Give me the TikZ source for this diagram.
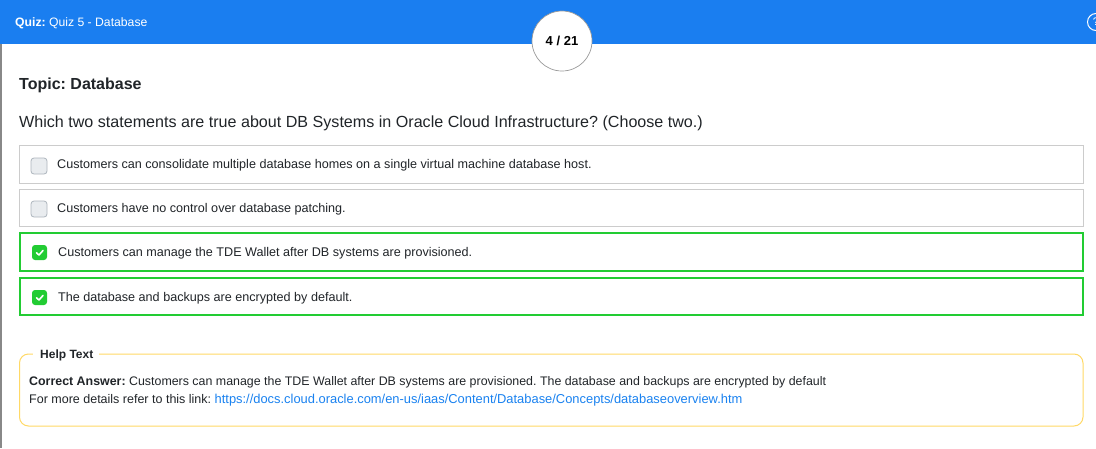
\documentclass[tikz,border=0pt]{standalone}
\usepackage{fontspec}
\setmainfont{Liberation Sans}
\frenchspacing
\definecolor{hdr}{HTML}{1A7EF0}
\definecolor{txt}{HTML}{212529}
\definecolor{okgreen}{HTML}{22CC33}
\definecolor{boxgray}{HTML}{CCCCCC}
\definecolor{chkfill}{HTML}{E9ECEF}
\definecolor{chkline}{HTML}{ADB5BD}
\definecolor{helpy}{HTML}{FFD966}
\definecolor{linkc}{HTML}{1A82F0}
\definecolor{edge}{HTML}{888888}
\begin{document}
\begin{tikzpicture}[x=1pt,y=-1pt,
  lbl/.style={anchor=base west,inner sep=0pt,text=txt},
  optfont/.style={font=\fontsize{12.6}{15}\selectfont},
  optbox/.style={draw=boxgray,line width=1pt},
  okbox/.style={draw=okgreen,line width=2pt},
  uncheck/.style={draw=chkline,fill=chkfill,line width=0.8pt,rounded corners=3pt},
  check/.style={fill=okgreen,rounded corners=3pt},
  tick/.style={draw=white,line width=1.6pt,line cap=round,line join=round}]
\useasboundingbox (0,0) rectangle (1096,448);
\fill[white] (0,0) rectangle (1096,448);
% header
\fill[hdr] (0,0) rectangle (1096,44);
\draw[edge,line width=1.5pt] (0.75,44) -- (0.75,448);
\node[anchor=base west,inner sep=0pt,text=white,font=\fontsize{12.2}{15}\selectfont] (title) at (15,26.5) {\textbf{Quiz:} Quiz 5 - Database};
\node[circle,draw=gray!80,fill=white,minimum size=60pt,inner sep=0pt,line width=0.7pt,font=\bfseries\fontsize{13}{15}\selectfont] (count) at (562,41) {4 / 21};
\begin{scope}
\clip (0,0) rectangle (1096,44);
\node[circle,draw=white,line width=1pt,minimum size=17pt,inner sep=0pt,text=white,font=\fontsize{11}{13}\selectfont] (help) at (1096,22) {?};
\end{scope}
% topic and question
\node[lbl,font=\bfseries\fontsize{16}{19}\selectfont] (topic) at (19,89) {Topic: Database};
\node[lbl,font=\fontsize{16.1}{19}\selectfont] (q) at (19,127) {Which two statements are true about DB Systems in Oracle Cloud Infrastructure? (Choose two.)};
% options
\draw[optbox] (19,145) rectangle (1083,183);
\draw[optbox] (19,189) rectangle (1083,226);
\draw[okbox] (20,233) rectangle (1083,271);
\draw[okbox] (20,278) rectangle (1083,315);
\draw[uncheck] (31,158) rectangle (47,174);
\draw[uncheck] (31,201) rectangle (47,217);
\fill[check] (32,245) rectangle (47,260);
\draw[tick] (36.5,252.8) -- (39,255) -- (43,250.5);
\fill[check] (32,290) rectangle (47,305);
\draw[tick] (36.5,297.8) -- (39,300) -- (43,295.5);
\node[lbl,optfont] (o1) at (57,168.5) {Customers can consolidate multiple database homes on a single virtual machine database host.};
\node[lbl,optfont] (o2) at (57,212) {Customers have no control over database patching.};
\node[lbl,optfont] (o3) at (58,256.5) {Customers can manage the TDE Wallet after DB systems are provisioned.};
\node[lbl,optfont] (o4) at (58,301) {The database and backups are encrypted by default.};
% help box
\draw[helpy,line width=1pt,rounded corners=9pt] (19.5,354) rectangle (1083,426);
\fill[white] (33,350) rectangle (99,358);
\node[lbl,font=\bfseries\fontsize{12}{14}\selectfont] (ht) at (40,358) {Help Text};
\node[lbl,font=\fontsize{12.4}{15}\selectfont] (ca) at (29,385) {\textbf{Correct Answer:} Customers can manage the TDE Wallet after DB systems are provisioned. The database and backups are encrypted by default};
\node[lbl,font=\fontsize{12.5}{15}\selectfont] (lk) at (29,403) {For more details refer to this link: \textcolor{linkc}{\fontsize{12.9}{15}\selectfont https://docs.cloud.oracle.com/en-us/iaas/Content/Database/Concepts/databaseoverview.htm}};
\end{tikzpicture}
\end{document}
